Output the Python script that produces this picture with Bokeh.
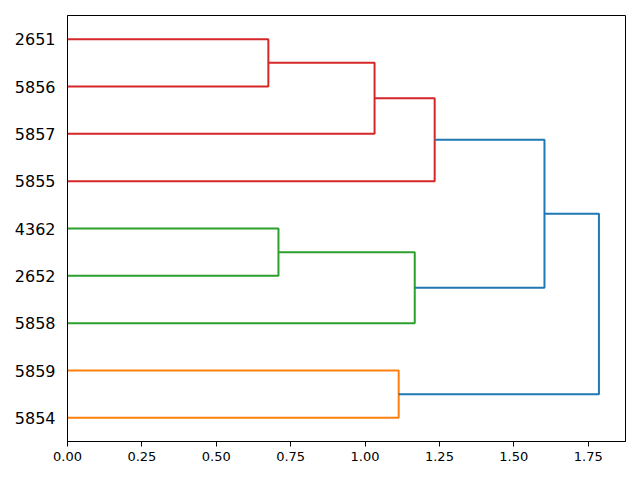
from bokeh.plotting import figure
from bokeh.models import ColumnDataSource, FixedTicker, NumeralTickFormatter, Range1d
from bokeh.embed import file_html
from bokeh.resources import INLINE

# Leaves, bottom to top
leaves = ["5854", "5859", "5858", "2652", "4362", "5855", "5857", "5856", "2651"]

# Merges: (new cluster, left child, right child, height, colour)
merge_names = ["A", "B", "C", "D", "E", "F", "G", "H"]
merge_left = ["2651", "A", "B", "4362", "D", "C", "5859", "F"]
merge_right = ["5856", "5857", "5855", "2652", "5858", "E", "5854", "G"]
merge_heights = [0.675, 1.032, 1.234, 0.709, 1.167, 1.603, 1.113, 1.786]
merge_colors = ["#d62728", "#d62728", "#d62728", "#2ca02c", "#2ca02c",
                "#1f77b4", "#ff7f0e", "#1f77b4"]

x_ticks = [0.0, 0.25, 0.5, 0.75, 1.0, 1.25, 1.5, 1.75]

# Positions as scipy does: leaves at 5, 15, 25, ...
pos = {name: 10 * i + 5 for i, name in enumerate(leaves)}
height = {name: 0.0 for name in leaves}
xs, ys, cols = [], [], []
for name, l, r, h, c in zip(merge_names, merge_left, merge_right, merge_heights, merge_colors):
    yl, yr = pos[l], pos[r]
    xs.append([height[l], h, h, height[r]])
    ys.append([yl, yl, yr, yr])
    cols.append(c)
    pos[name] = (yl + yr) / 2
    height[name] = h

src = ColumnDataSource(dict(xs=xs, ys=ys, color=cols))

xmax = max(merge_heights) * 1.05
p = figure(width=640, height=480, output_backend="svg", toolbar_location=None,
           x_range=Range1d(0, xmax), y_range=Range1d(0, 10 * len(leaves)),
           min_border_left=67, min_border_right=15, min_border_top=15, min_border_bottom=39)
p.multi_line(xs="xs", ys="ys", line_color="color", line_width=2, source=src)

p.xgrid.visible = False
p.ygrid.visible = False
p.outline_line_color = "black"
p.outline_line_width = 1
p.outline_line_alpha = 1

p.xaxis.ticker = FixedTicker(ticks=x_ticks)
p.xaxis.formatter = NumeralTickFormatter(format="0.00")
p.xaxis.minor_tick_line_color = None
p.xaxis.major_tick_in = 0
p.xaxis.major_tick_out = 5
p.xaxis.major_label_text_font = "DejaVu Sans"
p.xaxis.major_label_text_font_size = "13px"
p.xaxis.major_label_text_color = "black"
p.xaxis.major_label_standoff = 5
p.xaxis.axis_line_color = "black"

leaf_pos = [10 * i + 5 for i in range(len(leaves))]
p.yaxis.ticker = FixedTicker(ticks=leaf_pos)
p.yaxis.major_label_overrides = {v: lab for v, lab in zip(leaf_pos, leaves)}
p.yaxis.minor_tick_line_color = None
p.yaxis.major_tick_line_color = None
p.yaxis.major_tick_in = 0
p.yaxis.major_tick_out = 0
p.yaxis.major_label_text_font = "DejaVu Sans"
p.yaxis.major_label_text_font_size = "16px"
p.yaxis.major_label_text_color = "black"
p.yaxis.major_label_standoff = 12
p.yaxis.axis_line_color = "black"

p.background_fill_color = "white"
p.border_fill_color = "white"

open("out.html", "w").write(file_html(p, INLINE))
